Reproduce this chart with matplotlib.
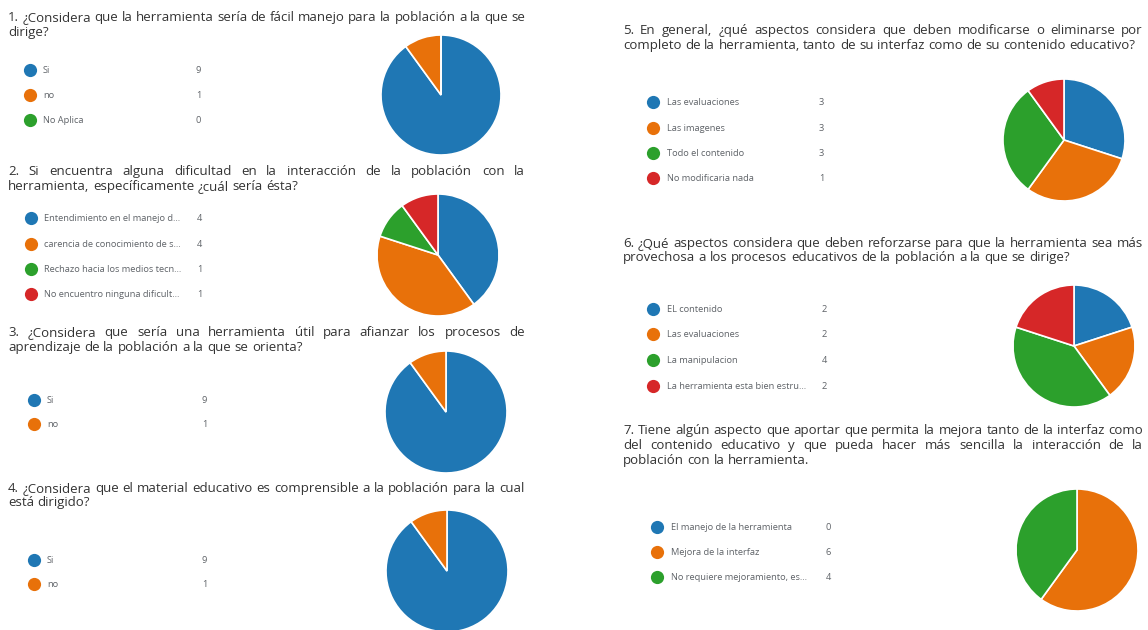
import matplotlib.pyplot as plt

# datos de cada pregunta
titulos = [
    ["1. ¿Considera que la herramienta sería de fácil manejo para la población a la que se",
     "dirige?"],
    ["2. Si encuentra alguna dificultad en la interacción de la población con la",
     "herramienta, específicamente ¿cuál sería ésta?"],
    ["3. ¿Considera que sería una herramienta útil para afianzar los procesos de",
     "aprendizaje de la población a la que se orienta?"],
    ["4. ¿Considera que el material educativo es comprensible a la población para la cual",
     "está dirigido?"],
    ["5. En general, ¿qué aspectos considera que deben modificarse o eliminarse por",
     "completo de la herramienta, tanto de su interfaz como de su contenido educativo?"],
    ["6. ¿Qué aspectos considera que deben reforzarse para que la herramienta sea más",
     "provechosa a los procesos educativos de la población a la que se dirige?"],
    ["7. Tiene algún aspecto que aportar que permita la mejora tanto de la interfaz como",
     "del contenido educativo y que pueda hacer más sencilla la interacción de la",
     "población con la herramienta."],
]

etiquetas1 = ["Si", "no", "No Aplica"]
valores1 = [9, 1, 0]
etiquetas2 = ["Entendimiento en el manejo d...", "carencia de conocimiento de s...",
              "Rechazo hacia los medios tecn...", "No encuentro ninguna dificult..."]
valores2 = [4, 4, 1, 1]
etiquetas3 = ["Si", "no"]
valores3 = [9, 1]
etiquetas4 = ["Si", "no"]
valores4 = [9, 1]
etiquetas5 = ["Las evaluaciones", "Las imagenes", "Todo el contenido", "No modificaria nada"]
valores5 = [3, 3, 3, 1]
etiquetas6 = ["EL contenido", "Las evaluaciones", "La manipulacion", "La herramienta esta bien estru..."]
valores6 = [2, 2, 4, 2]
etiquetas7 = ["El manejo de la herramienta", "Mejora de la interfaz", "No requiere mejoramiento, es..."]
valores7 = [0, 6, 4]

colores = ["#1f77b4", "#e8710a", "#2ca02c", "#d62728"]

W, H = 1148, 630
fig = plt.figure(figsize=(W / 100, H / 100), dpi=100)
ax = fig.add_axes([0, 0, 1, 1])
fuente = "Open Sans"

# (titulo x0, x1, y lineas), (leyenda x punto, x texto, x conteo, y filas), (pie cx, cy, r)
paneles = [
    (8, 525, [17, 32], 30, 43, 196, [70, 95, 120], (441, 95, 60)),
    (8, 525, [171, 186], 31, 44, 197, [218, 244, 269, 294], (438, 255, 61)),
    (8, 525, [332, 347], 34, 47, 202, [400, 424], (446, 412, 61)),
    (8, 525, [488, 502], 34, 47, 202, [560, 584], (447, 571, 61)),
    (623, 1143, [30, 45], 653, 667, 819, [102, 128, 153, 178], (1064, 140, 61)),
    (623, 1143, [243, 257], 653, 667, 822, [309, 334, 360, 386], (1074, 346, 61)),
    (623, 1143, [430, 445, 460], 657, 671, 826, [527, 552, 577], (1077, 550, 61)),
]
datos = [(etiquetas1, valores1), (etiquetas2, valores2), (etiquetas3, valores3),
         (etiquetas4, valores4), (etiquetas5, valores5), (etiquetas6, valores6),
         (etiquetas7, valores7)]

renderer = fig.canvas.get_renderer()


def ancho(texto, tam):
    t = ax.text(0, 0, texto, fontsize=tam, family=fuente)
    w = t.get_window_extent(renderer).width
    t.remove()
    return w


# tamaño del titulo: la primera linea de la pregunta 1 ocupa todo el ancho
tam_titulo = 10 * (525 - 8) / ancho(titulos[0][0], 10)


def linea_justificada(texto, x0, x1, y, justificar):
    palabras = texto.split(" ")
    n = len(palabras)
    total = ancho(texto, tam_titulo)
    extra = (x1 - x0 - total) / (n - 1) if (justificar and n > 1) else 0
    for i, p in enumerate(palabras):
        pos = ancho(" ".join(palabras[:i + 1]), tam_titulo) - ancho(p, tam_titulo)
        ax.text(x0 + pos + i * extra, H - y - 4, p, fontsize=tam_titulo, family=fuente,
                color="#333333", va="baseline")


for (x0, x1, ys, xd, xt, xc, filas, (cx, cy, r)), lineas, (etq, vals) in zip(paneles, titulos, datos):
    for i, (linea, y) in enumerate(zip(lineas, ys)):
        linea_justificada(linea, x0, x1, y, i < len(lineas) - 1)
    for j, (e, v, yf) in enumerate(zip(etq, vals, filas)):
        ax.plot(xd, H - yf, "o", ms=9.5, color=colores[j], mec="none")
        ax.text(xt, H - yf - 3, e, fontsize=6.7, family=fuente, color="#5f6368", va="baseline")
        ax.text(xc, H - yf - 3, str(v), fontsize=6.7, family=fuente, color="#5f6368", va="baseline")
    ax.pie(vals, colors=colores[:len(vals)], startangle=90, counterclock=False,
           center=(cx, H - cy), radius=r,
           wedgeprops=dict(edgecolor="white", linewidth=1.2))

ax.set_xlim(0, W)
ax.set_ylim(0, H)
ax.set_aspect("equal")
ax.axis("off")
fig.savefig("out.png", dpi=100)
